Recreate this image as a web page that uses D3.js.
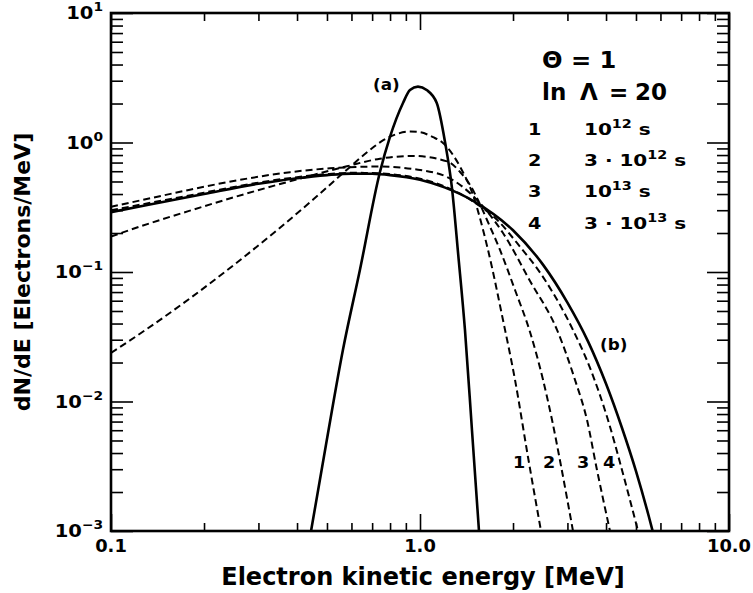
<!DOCTYPE html>
<html><head><meta charset="utf-8">
<script src="https://cdn.jsdelivr.net/npm/d3@7"></script>
<style>
body{margin:0;background:#fff}
text{font-family:"DejaVu Sans",sans-serif;font-weight:bold;fill:#000}
</style>
</head><body>
<svg id="chart" width="753" height="593"></svg>
<script>
// ---- data ----
// (a) initial distribution
const aE = [0.444, 0.496, 0.563, 0.639, 0.742, 0.800, 0.881, 0.928, 0.985, 1.051, 1.133, 1.205, 1.269, 1.330, 1.398, 1.473, 1.552];
const aN = [0.0010, 0.0046, 0.0250, 0.1036, 0.592, 1.109, 2.018, 2.543, 2.70, 2.543, 2.018, 1.009, 0.445, 0.135, 0.0357, 0.0060, 0.0010];
// (b) equilibrium distribution
const bE = [0.1, 0.15, 0.2, 0.3, 0.4, 0.5, 0.6, 0.7, 0.8, 1.0, 1.2, 1.5, 2.0, 2.5, 3.0, 3.5, 4.0, 4.5, 5.0, 5.5, 5.8];
const bN = [0.29, 0.35, 0.40, 0.48, 0.53, 0.56, 0.575, 0.573, 0.56, 0.515, 0.45, 0.35, 0.21, 0.114, 0.058, 0.029, 0.0137, 0.0063, 0.0029, 0.0013, 0.0008];
// 1: 1e12 s
const c1E = [0.100, 0.130, 0.180, 0.250, 0.350, 0.450, 0.560, 0.674, 0.750, 0.830, 0.930, 1.000, 1.102, 1.187, 1.348, 1.484, 1.660, 1.856, 2.030, 2.236, 2.464];
const c1N = [0.0237, 0.0360, 0.0625, 0.1135, 0.2170, 0.3608, 0.5727, 0.840, 1.020, 1.150, 1.215, 1.200, 1.100, 0.991, 0.650, 0.393, 0.148, 0.0426, 0.0147, 0.00373, 0.0010];
// 2: 3e12 s
const c2E = [0.100, 0.133, 0.178, 0.251, 0.355, 0.501, 0.580, 0.742, 0.949, 1.232, 1.348, 1.452, 1.540, 1.648, 1.815, 2.030, 2.270, 2.501, 2.675, 2.860, 3.127];
const c2N = [0.188, 0.237, 0.295, 0.379, 0.480, 0.599, 0.655, 0.750, 0.787, 0.711, 0.592, 0.470, 0.360, 0.252, 0.148, 0.0726, 0.0344, 0.0147, 0.0072, 0.00318, 0.0010];
// 3: 1e13 s
const c3E = [0.100, 0.134, 0.180, 0.262, 0.380, 0.511, 0.742, 0.949, 1.223, 1.529, 1.856, 2.270, 2.776, 3.174, 3.471, 3.739, 4.120];
const c3N = [0.319, 0.371, 0.432, 0.515, 0.590, 0.632, 0.652, 0.624, 0.542, 0.360, 0.200, 0.0852, 0.0357, 0.0147, 0.0072, 0.00296, 0.0010];
// 4: 3e13 s
const c4E = [0.1, 0.15, 0.2, 0.3, 0.4, 0.5, 0.6, 0.7, 0.8, 1.0, 1.2, 1.5, 1.8, 2.06, 2.538, 3.127, 3.550, 4.059, 4.505, 5.077];
const c4N = [0.300, 0.360, 0.410, 0.490, 0.540, 0.570, 0.583, 0.582, 0.570, 0.525, 0.458, 0.345, 0.245, 0.1675, 0.0868, 0.0357, 0.01815, 0.0072, 0.00296, 0.0010];

const xTickValues = [0.1, 1, 10];
const xTickLabels = ["0.1", "1.0", "10.0"];
const yTickValues = [1e-3, 1e-2, 1e-1, 1, 10];
const yTickExponents = ["\u22123", "\u22122", "\u22121", "0", "1"];
const curveLabels = ["1", "2", "3", "4"];
const legendNums = ["1", "2", "3", "4"];
const legendPre = ["", "3 \u00b7 ", "", "3 \u00b7 "];
const legendExp = ["12", "12", "13", "13"];

// ---- layout ----
const svg = d3.select("#chart");
const L = 111, R = 729, T = 13, B = 531;
const x = d3.scaleLog().domain([0.1, 10]).range([L, R]);
const y = d3.scaleLog().domain([1e-3, 10]).range([B, T]);

function minors(lo, hi) {
  const out = [];
  for (let d = lo; d < hi; d *= 10) for (let k = 2; k <= 9; k++) out.push(d * k);
  return out;
}
const xMinor = minors(0.1, 10), yMinor = minors(1e-3, 10);

function axisG(gen, tx, ty) {
  const g = svg.append("g").attr("transform", `translate(${tx},${ty})`).call(gen);
  g.select(".domain").remove();
  g.selectAll("line").attr("stroke", "#000").attr("stroke-width", 1.6);
  g.selectAll("text").remove();
  return g;
}
axisG(d3.axisBottom(x).tickValues(xMinor).tickSize(-8).tickFormat(""), 0, B);
axisG(d3.axisBottom(x).tickValues(xTickValues).tickSize(-17).tickFormat(""), 0, B);
axisG(d3.axisTop(x).tickValues(xMinor).tickSize(-8).tickFormat(""), 0, T);
axisG(d3.axisTop(x).tickValues(xTickValues).tickSize(-17).tickFormat(""), 0, T);
axisG(d3.axisLeft(y).tickValues(yMinor).tickSize(-12).tickFormat(""), L, 0);
axisG(d3.axisLeft(y).tickValues(yTickValues).tickSize(-22).tickFormat(""), L, 0);
axisG(d3.axisRight(y).tickValues(yMinor).tickSize(-12).tickFormat(""), R, 0);
axisG(d3.axisRight(y).tickValues(yTickValues).tickSize(-22).tickFormat(""), R, 0);

// clip
svg.append("clipPath").attr("id", "clip").append("rect")
  .attr("x", L).attr("y", T).attr("width", R - L).attr("height", B - T);

const line = d3.line().x(d => x(d[0])).y(d => y(d[1])).curve(d3.curveMonotoneX);
const plot = svg.append("g").attr("clip-path", "url(#clip)");
function draw(E, N, dashed, w) {
  plot.append("path").datum(E.map((e, i) => [e, N[i]]))
    .attr("d", line).attr("fill", "none").attr("stroke", "#000")
    .attr("stroke-width", w).attr("stroke-dasharray", dashed ? "7,4" : null);
}
draw(c1E, c1N, true, 2);
draw(c2E, c2N, true, 2);
draw(c3E, c3N, true, 2);
draw(c4E, c4N, true, 2);
draw(bE, bN, false, 2.6);
draw(aE, aN, false, 2.6);

// frame
svg.append("rect").attr("x", L).attr("y", T).attr("width", R - L).attr("height", B - T)
  .attr("fill", "none").attr("stroke", "#000").attr("stroke-width", 2.6);

// text helper with horizontal stretch
function txt(xp, yp, size, sx, anchor) {
  return svg.append("text")
    .attr("transform", `translate(${xp},${yp}) scale(${sx},1)`)
    .attr("font-size", size).attr("text-anchor", anchor || "start");
}

// y tick labels
yTickValues.forEach((v, i) => {
  const t = txt(103, y(v) + 6, 17, 1.15, "end");
  t.append("tspan").text("10");
  t.append("tspan").attr("dy", -8).attr("font-size", 12).text(yTickExponents[i]);
});
// x tick labels
xTickValues.forEach((v, i) => {
  txt(x(v), 552, 17, 1.05, "middle").text(xTickLabels[i]);
});
// axis titles
txt(423, 585, 24, 1, "middle").text("Electron kinetic energy [MeV]");
svg.append("text").attr("transform", `translate(30,${(T + B) / 2}) rotate(-90)`)
  .attr("font-size", 22).attr("text-anchor", "middle").text("dN/dE [Electrons/MeV]");

// legend header
txt(542, 68, 23, 1.05).text("\u0398 = 1");
const h2 = txt(542, 100, 23, 1.0);
h2.append("tspan").text("ln");
h2.append("tspan").attr("x", 38).text("\u039b");
h2.append("tspan").attr("x", 67).text("=");
h2.append("tspan").attr("x", 93).text("20");

const rowY = [135, 166, 197, 229];
legendNums.forEach((n, i) => {
  txt(528, rowY[i], 16, 1.2).text(n);
  const t = txt(584, rowY[i], 16, 1.25);
  t.append("tspan").text(legendPre[i] + "10");
  t.append("tspan").attr("dy", -7).attr("font-size", 11.5).text(legendExp[i]);
  t.append("tspan").attr("dy", 7).text(" s");
});

// curve labels
txt(373, 90, 16, 1.05).text("(a)");
txt(600, 350, 16, 1.05).text("(b)");
const lblX = [513, 543, 577, 603];
curveLabels.forEach((c, i) => {
  txt(lblX[i], 468, 16, 1.1).text(c);
});
</script>
</body></html>
